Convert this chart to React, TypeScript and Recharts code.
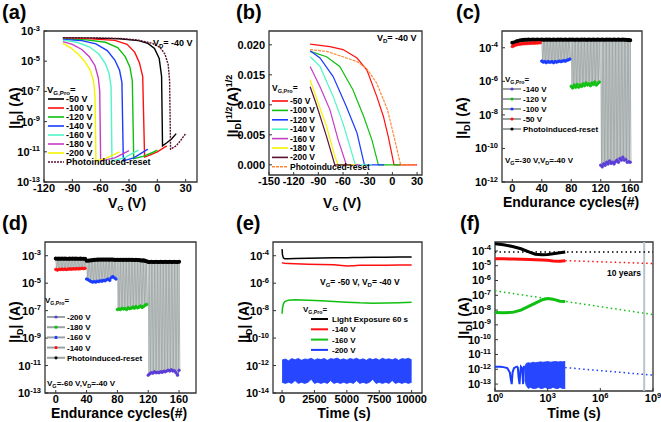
import React from 'react';
import { ComposedChart, Line, Area, XAxis, YAxis, ReferenceArea, ReferenceLine } from 'recharts';

const FONT = '"Liberation Sans", Arial, Helvetica, sans-serif';

// ---------- (a) |ID| vs VG (log) ----------
const aTicksX = [-120, -90, -60, -30, 0, 30];
const aTicksY = [1e-13, 1e-11, 1e-9, 1e-7, 1e-5, 1e-3];
const aVgM50 = [-100, -70, -40, -20, -10, -3, 2, 4.5, 5.5, 10, 15, 20];
const aIdM50 = [3.5e-4, 3.4e-4, 3.1e-4, 2.3e-4, 1.5e-4, 7e-5, 1.5e-5, 1e-6, 2.5e-11, 4e-11, 7e-11, 1.6e-10];
const aVgM100 = [-100, -70, -45, -32, -24, -19, -15.5, -13.5, -8, 0, 10];
const aIdM100 = [3.3e-4, 3e-4, 2.4e-4, 1.3e-4, 4e-5, 8e-6, 1e-6, 4.5e-12, 6e-12, 1e-11, 2.5e-11];
const aVgM120 = [-100, -75, -55, -42, -34, -29, -26.5, -25, -15, -5, 0];
const aIdM120 = [3e-4, 2.6e-4, 1.8e-4, 8e-5, 2e-5, 4e-6, 5e-7, 3.5e-12, 5e-12, 9e-12, 1.3e-11];
const aVgM140 = [-100, -80, -65, -53, -45, -40, -37.5, -36, -25, -10];
const aIdM140 = [2.8e-4, 2.3e-4, 1.4e-4, 5e-5, 1.2e-5, 2.5e-6, 4e-7, 2.5e-12, 4e-12, 1.5e-11];
const aVgM160 = [-100, -85, -72, -62, -55, -51, -49, -48, -35, -20];
const aIdM160 = [2.5e-4, 1.8e-4, 9e-5, 3e-5, 7e-6, 1.5e-6, 2e-7, 2.5e-12, 4e-12, 1.3e-11];
const aVgM180 = [-100, -90, -80, -72, -66, -62.5, -61, -60, -45, -30];
const aIdM180 = [2e-4, 1.3e-4, 6e-5, 2e-5, 5e-6, 8e-7, 1e-7, 2.5e-12, 4e-12, 1.2e-11];
const aVgM200 = [-100, -92, -84, -77, -71, -67.5, -66, -65, -55, -40];
const aIdM200 = [1.5e-4, 8e-5, 3e-5, 1e-5, 2.5e-6, 5e-7, 5e-8, 2.5e-12, 3.5e-12, 1e-11];
const aVgReset = [-100, -70, -40, -20, -5, 3, 8, 11.5, 13, 14, 20, 25, 30];
const aIdReset = [3.6e-4, 3.5e-4, 3.2e-4, 2.5e-4, 1.5e-4, 8e-5, 3e-5, 6e-6, 5e-7, 1.5e-11, 2.5e-11, 6e-11, 1.6e-10];

// ---------- (b) |ID|^1/2 vs VG ----------
const bTicksX = [-150, -120, -90, -60, -30, 0, 30];
const bTicksY = [0, 0.005, 0.01, 0.015, 0.02];
const bVgM50 = [-100, -76, -60, -43, -31, -19, -11, -5, 2, 30];
const bSqM50 = [0.0201, 0.0197, 0.0192, 0.0178, 0.0158, 0.0114, 0.0081, 0.0047, 0, 0];
const bVgM100 = [-100, -80, -64, -48, -35, -25, -17, 10];
const bSqM100 = [0.0189, 0.018, 0.0164, 0.0125, 0.0081, 0.0042, 0, 0];
const bVgM120 = [-100, -88, -72, -56, -43, -34, -10];
const bSqM120 = [0.019, 0.0178, 0.0147, 0.0097, 0.0053, 0, 0];
const bVgM140 = [-100, -88, -72, -60, -45, -25];
const bSqM140 = [0.018, 0.0164, 0.0114, 0.0069, 0, 0];
const bVgM160 = [-100, -88, -76, -66, -56, -40];
const bSqM160 = [0.0164, 0.013, 0.0092, 0.0042, 0, 0];
const bVgM180 = [-100, -93, -80, -70, -66, -45];
const bSqM180 = [0.0142, 0.0114, 0.0064, 0.0014, 0, 0];
const bVgM200 = [-100, -93, -80, -70, -50];
const bSqM200 = [0.013, 0.0103, 0.0047, 0, 0];
const bVgReset = [-100, -80, -60, -43, -31, -19, -6, 2, 10, 30];
const bSqReset = [0.0192, 0.0189, 0.018, 0.0172, 0.016, 0.0136, 0.0092, 0.0047, 0, 0];

// ---------- (c) endurance, VG = -30 V ----------
const cycTicks = [0, 40, 80, 120, 160];
const cTicksY = [1e-12, 1e-10, 1e-8, 1e-6, 1e-4];
const cycles = [0, 2, 4, 6, 8, 10, 12, 14, 16, 18, 20, 22, 24, 26, 28, 30, 32, 34, 36, 38,
  40, 42, 44, 46, 48, 50, 52, 54, 56, 58, 60, 62, 64, 66, 68, 70, 72, 74, 76, 78,
  80, 82, 84, 86, 88, 90, 92, 94, 96, 98, 100, 102, 104, 106, 108, 110, 112, 114, 116, 118,
  120, 122, 124, 126, 128, 130, 132, 134, 136, 138, 140, 142, 144, 146, 148, 150, 152, 154, 156, 158, 160];
const cReset = [2.0e-4, 2.0e-4, 2.2e-4, 2.4e-4, 2.5e-4, 2.7e-4, 2.8e-4, 2.9e-4, 3.0e-4, 3.0e-4, 3.0e-4, 3.1e-4, 3.0e-4, 3.0e-4, 3.1e-4, 3.0e-4, 3.0e-4, 3.1e-4, 3.0e-4, 3.0e-4,
  3.1e-4, 3.0e-4, 3.0e-4, 3.1e-4, 3.0e-4, 3.1e-4, 3.0e-4, 3.0e-4, 3.1e-4, 3.0e-4, 3.0e-4, 3.1e-4, 3.0e-4, 3.1e-4, 3.0e-4, 3.0e-4, 3.1e-4, 3.0e-4, 3.0e-4, 3.1e-4,
  3.0e-4, 3.1e-4, 3.0e-4, 3.0e-4, 3.1e-4, 3.0e-4, 3.0e-4, 3.1e-4, 3.0e-4, 3.1e-4, 3.0e-4, 3.0e-4, 3.1e-4, 3.0e-4, 3.0e-4, 3.1e-4, 3.0e-4, 3.0e-4, 3.1e-4, 3.0e-4,
  3.0e-4, 3.1e-4, 3.0e-4, 3.0e-4, 3.1e-4, 3.0e-4, 3.1e-4, 3.0e-4, 3.0e-4, 3.1e-4, 3.0e-4, 3.0e-4, 3.1e-4, 3.0e-4, 3.0e-4, 3.1e-4, 3.0e-4, 3.0e-4, 2.9e-4, 2.9e-4, 2.8e-4];
const cM50 = [1.2e-4, 1.3e-4, 1.45e-4, 1.5e-4, 1.6e-4, 1.65e-4, 1.7e-4, 1.75e-4, 1.75e-4, 1.8e-4, 1.8e-4, 1.85e-4, 1.85e-4, 1.9e-4, 1.9e-4, 1.9e-4, 1.95e-4, 1.95e-4, 2e-4, 2e-4];
const cM100 = [1.6e-5, 1.4e-5, 1.5e-5, 1.3e-5, 1.5e-5, 1.4e-5, 1.4e-5, 1.5e-5, 1.3e-5, 1.5e-5, 1.4e-5, 1.5e-5, 1.6e-5, 1.5e-5, 1.6e-5, 1.7e-5, 1.6e-5, 1.8e-5, 1.9e-5, 2.1e-5];
const cM120 = [5e-7, 4e-7, 6e-7, 4.5e-7, 6.5e-7, 4.5e-7, 6e-7, 5e-7, 7e-7, 5.5e-7, 8e-7, 6e-7, 7e-7, 5.5e-7, 8e-7, 6.5e-7, 9e-7, 6e-7, 7.5e-7, 9e-7];
const cM140 = [1e-11, 8e-12, 1.2e-11, 1e-11, 1.5e-11, 1.2e-11, 1.8e-11, 1.3e-11, 1.5e-11, 1.2e-11, 1.6e-11, 2e-11, 1.5e-11, 2.5e-11, 2e-11, 3e-11, 2e-11, 2.2e-11, 1.5e-11, 1.6e-11, 1.5e-11];

// ---------- (d) endurance, VG = -60 V ----------
const dTicksY = [1e-13, 1e-11, 1e-9, 1e-7, 1e-5, 1e-3];
const dReset = [6.2e-4, 6.0e-4, 6.1e-4, 6.0e-4, 6.2e-4, 6.0e-4, 6.1e-4, 6.0e-4, 6.0e-4, 6.1e-4, 6.0e-4, 6.2e-4, 6.0e-4, 6.1e-4, 6.0e-4, 6.0e-4, 6.1e-4, 6.0e-4, 6.0e-4, 6.0e-4,
  4.3e-4, 4.4e-4, 4.5e-4, 4.6e-4, 4.8e-4, 5.0e-4, 5.1e-4, 5.2e-4, 5.2e-4, 5.3e-4, 5.2e-4, 5.3e-4, 5.2e-4, 5.3e-4, 5.2e-4, 5.2e-4, 5.3e-4, 5.2e-4, 5.1e-4, 5.0e-4,
  5.1e-4, 5.0e-4, 5.1e-4, 5.0e-4, 5.0e-4, 5.1e-4, 5.0e-4, 5.0e-4, 5.1e-4, 5.0e-4, 5.0e-4, 4.9e-4, 5.0e-4, 4.9e-4, 4.8e-4, 4.6e-4, 4.4e-4, 4.6e-4, 4.2e-4, 4.0e-4,
  3.5e-4, 3.5e-4, 3.6e-4, 3.5e-4, 3.5e-4, 3.6e-4, 3.5e-4, 3.5e-4, 3.6e-4, 3.5e-4, 3.5e-4, 3.6e-4, 3.5e-4, 3.5e-4, 3.6e-4, 3.5e-4, 3.5e-4, 3.6e-4, 3.5e-4, 3.5e-4, 3.6e-4];
const dM140 = [1e-4, 9e-5, 1e-4, 1e-4, 1.05e-4, 1e-4, 1.05e-4, 1e-4, 1.05e-4, 1.1e-4, 1.05e-4, 1.1e-4, 1.1e-4, 1.1e-4, 1.15e-4, 1.1e-4, 1.15e-4, 1.2e-4, 1.15e-4, 1.2e-4];
const dM160 = [2e-5, 1.8e-5, 1.5e-5, 1.3e-5, 1.2e-5, 1.3e-5, 1.2e-5, 1.4e-5, 1.3e-5, 1.5e-5, 1.4e-5, 1.6e-5, 1.5e-5, 1.8e-5, 2e-5, 1.6e-5, 2.5e-5, 3e-5, 2.5e-5, 2e-5];
const dM180 = [1.2e-7, 1.3e-7, 1.2e-7, 1.5e-7, 1.3e-7, 1.4e-7, 1.2e-7, 1.6e-7, 1.4e-7, 1.5e-7, 1.8e-7, 1.5e-7, 2e-7, 1.6e-7, 1.8e-7, 2.2e-7, 1.7e-7, 2e-7, 2.5e-7, 2.8e-7];
const dM200 = [2e-12, 2.5e-12, 3e-12, 2.8e-12, 3.5e-12, 3e-12, 3.2e-12, 3e-12, 3.5e-12, 3.2e-12, 3.8e-12, 3.5e-12, 4e-12, 4.5e-12, 4e-12, 5e-12, 4e-12, 4.2e-12, 3e-12, 2e-12, 4.5e-12];

// ---------- (e) retention, linear time ----------
const eTicksX = [0, 2500, 5000, 7500, 10000];
const eTicksY = [1e-14, 1e-12, 1e-10, 1e-8, 1e-6, 1e-4];
const eTime = [0, 30, 100, 200, 500, 1000, 2000, 3000, 4000, 5000, 5500, 6000, 7000, 8000, 9000, 10000];
const eLight = [3e-4, 1.2e-4, 7e-5, 6e-5, 6e-5, 6.2e-5, 6.5e-5, 6.8e-5, 7e-5, 7.2e-5, 7.3e-5, 7.4e-5, 7.6e-5, 7.8e-5, 8e-5, 8e-5];
const eM140 = [3.2e-5, 3e-5, 2.9e-5, 2.8e-5, 2.7e-5, 2.6e-5, 2.4e-5, 2.3e-5, 2.2e-5, 1.8e-5, 1.9e-5, 2e-5, 2e-5, 2e-5, 2.1e-5, 2.1e-5];
const eM160 = [6e-9, 1.5e-8, 3e-8, 4.5e-8, 5.8e-8, 6.2e-8, 5.8e-8, 5.2e-8, 4.6e-8, 4.1e-8, 3.9e-8, 3.7e-8, 3.5e-8, 3.6e-8, 3.8e-8, 4.1e-8];
const eNoiseT = [0, 250, 500, 750, 1000, 1250, 1500, 1750, 2000, 2250, 2500, 2750, 3000, 3250, 3500, 3750, 4000, 4250, 4500, 4750, 5000,
  5250, 5500, 5750, 6000, 6250, 6500, 6750, 7000, 7250, 7500, 7750, 8000, 8250, 8500, 8750, 9000, 9250, 9500, 9750, 10000];
const eNoiseHi = [2.5e-12, 3e-12, 2.2e-12, 3.2e-12, 2.6e-12, 3.3e-12, 2.4e-12, 3e-12, 2.8e-12, 3.4e-12, 2.5e-12, 3.1e-12, 2.7e-12, 3.3e-12, 2.4e-12, 3.2e-12, 2.9e-12, 3.5e-12, 2.6e-12, 3.1e-12, 2.5e-12,
  3.3e-12, 2.8e-12, 3.4e-12, 2.6e-12, 3.1e-12, 2.4e-12, 3.3e-12, 2.7e-12, 3.2e-12, 2.5e-12, 3.4e-12, 2.8e-12, 3.1e-12, 2.6e-12, 3.3e-12, 2.4e-12, 3.2e-12, 2.9e-12, 3.4e-12, 2.6e-12];
const eNoiseLo = [6e-14, 5e-14, 6e-14, 5e-14, 8e-14, 5e-14, 6e-14, 5e-14, 6e-14, 1e-13, 5e-14, 6e-14, 5e-14, 6e-14, 5e-14, 8e-14, 5e-14, 6e-14, 5e-14, 6e-14, 5e-14,
  6e-14, 5e-14, 8e-14, 5e-14, 6e-14, 5e-14, 6e-14, 1e-13, 5e-14, 6e-14, 5e-14, 6e-14, 5e-14, 8e-14, 5e-14, 6e-14, 5e-14, 6e-14, 5e-14, 6e-14];

// ---------- (f) retention, log time with extrapolation ----------
const fTicksX = [1, 1e3, 1e6, 1e9];
const fTicksY = [1e-13, 1e-12, 1e-11, 1e-10, 1e-9, 1e-8, 1e-7, 1e-6, 1e-5, 1e-4];
const fTime = [1, 3, 10, 30, 100, 200, 500, 1000, 2000, 5000, 10000];
const fLight = [3e-4, 2.6e-4, 2e-4, 1.4e-4, 8e-5, 6e-5, 5.5e-5, 5.8e-5, 6.5e-5, 7.5e-5, 8.5e-5];
const fM140 = [3e-5, 2.9e-5, 2.8e-5, 2.7e-5, 2.6e-5, 2.5e-5, 2.4e-5, 2.3e-5, 2.1e-5, 2e-5, 2.2e-5];
const fM160 = [7e-9, 6.5e-9, 7e-9, 1e-8, 2e-8, 3e-8, 5e-8, 6e-8, 5.5e-8, 4e-8, 3.8e-8];
const fM200T = [1, 2, 3, 5, 7, 8, 9, 10, 12, 15, 18, 20, 22, 25, 28, 30, 35, 40, 45, 50];
const fM200 = [1.5e-12, 1.5e-12, 1.4e-12, 1.2e-12, 6e-13, 2e-13, 1e-13, 6e-13, 1.2e-12, 1.4e-12, 1.5e-12, 1.3e-12, 3e-13, 1e-13, 8e-13, 1.5e-12, 1.2e-12, 1e-13, 1.5e-12, 1.5e-12];
const fNoiseT = [50, 60, 80, 100, 150, 200, 300, 400, 500, 700, 1000, 1500, 2000, 3000, 4000, 5000, 7000, 10000];
const fNoiseHi = [1.5e-12, 2.5e-12, 2.8e-12, 2.6e-12, 3e-12, 2.8e-12, 3e-12, 3.2e-12, 3e-12, 3.1e-12, 3.3e-12, 3e-12, 3.2e-12, 3.3e-12, 3.1e-12, 3.3e-12, 3.2e-12, 3.4e-12];
const fNoiseLo = [2e-13, 8e-14, 5e-14, 6e-14, 5e-14, 5e-14, 6e-14, 5e-14, 5e-14, 6e-14, 5e-14, 5e-14, 6e-14, 5e-14, 5e-14, 6e-14, 5e-14, 5e-14];
const fFitT = [1, 1e9];
const fFitLight = [8.5e-5, 8.5e-5];
const fFitM160 = [2e-7, 5e-9];
const fExtT = [1e4, 1e9];
const fExtM140 = [2.2e-5, 1.4e-5];
const fExtM200 = [1.3e-12, 4e-13];
const tenYears = 3.15e8;

const pts = (xs: number[], ys: number[]) => xs.map((x, i) => ({ x, y: ys[i] }));
const zig = (xs: number[], top: number[], low: number[]) =>
  low.flatMap((v, i) => [{ x: xs[i], y: top[i] }, { x: xs[i] + 1, y: v }]);

const box = (L: number, R: number, T: number, B: number) => ({
  style: { position: 'absolute' as const, left: L - 44, top: T - 8 },
  width: R - L + 52,
  height: B - T + 32,
  margin: { top: 8, right: 8, left: 0, bottom: 0 },
});

const tickFont = { fontSize: 11, fontWeight: 'bold' as const, fill: '#000', fontFamily: FONT };

function YPow(props: any) {
  const { x, y, payload } = props;
  const e = Math.round(Math.log10(payload.value));
  return (
    <text x={x} y={y} dy={4} textAnchor="end" fontSize={11} fontWeight="bold" fontFamily={FONT} fill="#000">
      10<tspan dy={-4.5} fontSize={7.5}>{e}</tspan>
    </text>
  );
}
function XPow(props: any) {
  const { x, y, payload } = props;
  const e = Math.round(Math.log10(payload.value));
  return (
    <text x={x} y={y} dy={9} textAnchor="middle" fontSize={11} fontWeight="bold" fontFamily={FONT} fill="#000">
      10<tspan dy={-4.5} fontSize={7.5}>{e}</tspan>
    </text>
  );
}

const axisX = (domain: number[], ticks: number[], extra: any = {}) => (
  <XAxis type="number" dataKey="x" domain={domain} ticks={ticks} interval={0} allowDataOverflow axisLine={false}
    tickSize={-3} tickMargin={5} height={24} tick={tickFont} stroke="#333" {...extra} />
);
const axisYLog = (domain: number[], ticks: number[]) => (
  <YAxis type="number" scale="log" domain={domain} ticks={ticks} interval={0} allowDataOverflow axisLine={false}
    tickSize={-3} tickMargin={7} width={44} tick={(p: any) => <YPow {...p} />} stroke="#333" />
);
const frame = (x1: number, x2: number, y1: number, y2: number) => (
  <ReferenceArea x1={x1} x2={x2} y1={y1} y2={y2} fill="none" stroke="#333" strokeWidth={1.3} ifOverflow="visible" />
);
const curve = (key: string, data: any[], color: string, width = 1.3, dash?: string) => (
  <Line key={key} data={data} dataKey="y" type="linear" stroke={color} strokeWidth={width}
    strokeDasharray={dash} dot={false} isAnimationActive={false} />
);
const dotted = (key: string, data: any[], color: string, width = 1.3) => (
  <Line key={key} data={data} dataKey="y" type="linear" stroke={color} strokeWidth={width}
    dot={{ r: 1.3, fill: color, stroke: color }} isAnimationActive={false} />
);

const C = {
  black: '#000000', red: '#ff1010', green: '#10c010', blue: '#1a3cff', cyan: '#50f5c8',
  magenta: '#c63cc6', yellow: '#f4f400', maroon: '#5a1232', orange: '#ff8a3a', purple: '#5a3cd8', gray: '#9aa2a2',
};

const aCurves = [
  { n: '-50 V', xs: aVgM50, ys: aIdM50, c: C.black },
  { n: '-100 V', xs: aVgM100, ys: aIdM100, c: C.red },
  { n: '-120 V', xs: aVgM120, ys: aIdM120, c: C.green },
  { n: '-140 V', xs: aVgM140, ys: aIdM140, c: C.blue },
  { n: '-160 V', xs: aVgM160, ys: aIdM160, c: C.cyan },
  { n: '-180 V', xs: aVgM180, ys: aIdM180, c: C.magenta },
  { n: '-200 V', xs: aVgM200, ys: aIdM200, c: C.yellow },
  { n: 'Photoinduced-reset', xs: aVgReset, ys: aIdReset, c: C.maroon, d: '2 1' },
];
const bCurves = [
  { n: '-50 V', xs: bVgM50, ys: bSqM50, c: C.red },
  { n: '-100 V', xs: bVgM100, ys: bSqM100, c: C.green },
  { n: '-120 V', xs: bVgM120, ys: bSqM120, c: C.blue },
  { n: '-140 V', xs: bVgM140, ys: bSqM140, c: C.cyan },
  { n: '-160 V', xs: bVgM160, ys: bSqM160, c: C.magenta },
  { n: '-180 V', xs: bVgM180, ys: bSqM180, c: C.yellow },
  { n: '-200 V', xs: bVgM200, ys: bSqM200, c: C.maroon },
  { n: 'Photoinduced-reset', xs: bVgReset, ys: bSqReset, c: C.orange, d: '3 1' },
];

function Endurance({ L, R, T, B, dom, yDom, yTicks, reset, segs }: any) {
  const b = box(L, R, T, B);
  return (
    <ComposedChart {...b}>
      {axisX(dom, cycTicks)}
      {axisYLog(yDom, yTicks)}
      {segs.map((s: any) => curve('g' + s.k, zig(cycles.slice(s.k * 20), reset.slice(s.k * 20), s.v), C.gray, 0.8))}
      {dotted('reset', pts(cycles, reset), C.black, 1.5)}
      {segs.map((s: any) => dotted('p' + s.k, pts(cycles.slice(s.k * 20), s.v), s.c, 0.8))}
      {frame(dom[0], dom[1], yDom[0], yDom[1])}
    </ComposedChart>
  );
}

function T({ x, y, s = 9, a = 'start', children }: any) {
  return (
    <text x={x} y={y} fontSize={s} fontWeight="bold" fontFamily={FONT} textAnchor={a} fill="#000">{children}</text>
  );
}
function YTitle({ x, y, half }: any) {
  return (
    <text transform={`translate(${x},${y}) rotate(-90)`} fontSize={14} fontWeight="bold" fontFamily={FONT} textAnchor="middle" fill="#000">
      |I<tspan dy={3} fontSize={9}>D</tspan><tspan dy={-3}>|</tspan>
      {half ? <tspan dy={-6} fontSize={9}>1/2</tspan> : null}
      <tspan dy={half ? 6 : 0}>{half ? '(A)' : ' (A)'}</tspan>
      {half ? <tspan dy={-6} fontSize={9}>1/2</tspan> : null}
    </text>
  );
}
function VG({ x, y }: any) {
  return (
    <text x={x} y={y} fontSize={14} fontWeight="bold" fontFamily={FONT} textAnchor="middle" fill="#000">
      V<tspan dy={3} fontSize={8}>G</tspan><tspan dy={-3}> (V)</tspan>
    </text>
  );
}
function Pro({ x, y, s }: any) {
  return (
    <T x={x} y={y} s={s}>V<tspan dy={2} fontSize={s * 0.65}>G,Pro</tspan><tspan dy={-2}>=</tspan></T>
  );
}

export default function App() {
  const A = box(44, 197, 31, 182);
  const Bb = box(269, 422, 31, 175);
  const E = box(273, 422, 242, 393);
  const F = box(495, 653, 242, 391);
  const eBand = eNoiseT.map((x, i) => ({ x, band: [eNoiseLo[i], eNoiseHi[i]] }));
  const fBand = fNoiseT.map((x, i) => ({ x, band: [fNoiseLo[i], fNoiseHi[i]] }));

  return (
    <div style={{ position: 'absolute', left: 0, top: 0, width: 661, height: 422, background: '#fff', overflow: 'hidden' }}>
      {/* (a) */}
      <ComposedChart {...A}>
        {axisX([-120, 42], aTicksX)}
        {axisYLog([1e-13, 1e-3], aTicksY)}
        {aCurves.map((s) => curve('a' + s.n, pts(s.xs, s.ys), s.c, 1.4, (s as any).d))}
        {frame(-120, 42, 1e-13, 1e-3)}
      </ComposedChart>

      {/* (b) */}
      <ComposedChart {...Bb}>
        {axisX([-150, 36], bTicksX)}
        <YAxis type="number" domain={[-0.0017, 0.0223]} ticks={bTicksY} interval={0} allowDataOverflow axisLine={false}
          tickSize={-3} tickMargin={7} width={44} tick={tickFont} stroke="#333" tickFormatter={(v: number) => v.toFixed(3)} />
        {bCurves.map((s) => curve('b' + s.n, pts(s.xs, s.ys), s.c, 1.2, (s as any).d))}
        {frame(-150, 36, -0.0017, 0.0223)}
      </ComposedChart>

      {/* (c) */}
      <Endurance L={502} R={642} T={31} B={182} dom={[-14, 176]} yDom={[1e-12, 1e-3]} yTicks={cTicksY} reset={cReset}
        segs={[{ k: 0, v: cM50, c: C.red }, { k: 1, v: cM100, c: C.blue }, { k: 2, v: cM120, c: C.green }, { k: 3, v: cM140, c: C.purple }]} />

      {/* (d) */}
      <Endurance L={45} R={196} T={242} B={393} dom={[-14, 182]} yDom={[1e-13, 1e-2]} yTicks={dTicksY} reset={dReset}
        segs={[{ k: 0, v: dM140, c: C.red }, { k: 1, v: dM160, c: C.blue }, { k: 2, v: dM180, c: C.green }, { k: 3, v: dM200, c: C.purple }]} />

      {/* (e) */}
      <ComposedChart {...E} data={eBand}>
        {axisX([-700, 10800], eTicksX)}
        {axisYLog([1e-14, 1e-3], eTicksY)}
        <Area dataKey="band" type="linear" stroke={C.blue} strokeWidth={0.8} fill={C.blue} fillOpacity={0.95} isAnimationActive={false} />
        {curve('eL', pts(eTime, eLight), C.black, 1.5)}
        {curve('e140', pts(eTime, eM140), C.red, 1.5)}
        {curve('e160', pts(eTime, eM160), C.green, 1.5)}
        {frame(-700, 10800, 1e-14, 1e-3)}
      </ComposedChart>

      {/* (f) */}
      <ComposedChart {...F} data={fBand}>
        {axisX([1, 1e9], fTicksX, { scale: 'log', tick: (p: any) => <XPow {...p} /> })}
        {axisYLog([3.4e-14, 4e-4], fTicksY)}
        <ReferenceLine x={tenYears} stroke="#b8c4cc" strokeWidth={2} />
        {curve('fLf', pts(fFitT, fFitLight), C.black, 1.5, '1.5 3')}
        {curve('f140x', pts(fExtT, fExtM140), C.red, 1.5, '1.5 3')}
        {curve('f160f', pts(fFitT, fFitM160), C.green, 1.5, '1.5 3')}
        {curve('f200x', pts(fExtT, fExtM200), C.blue, 1.5, '1.5 3')}
        <Area dataKey="band" type="linear" stroke={C.blue} strokeWidth={0.8} fill={C.blue} fillOpacity={0.95} isAnimationActive={false} />
        {curve('f200', pts(fM200T, fM200), C.blue, 2)}
        {curve('fL', pts(fTime, fLight), C.black, 3)}
        {curve('f140', pts(fTime, fM140), C.red, 3)}
        {curve('f160', pts(fTime, fM160), C.green, 3)}
        {frame(1, 1e9, 3.4e-14, 4e-4)}
      </ComposedChart>

      {/* text overlay */}
      <svg width={661} height={422} style={{ position: 'absolute', left: 0, top: 0, pointerEvents: 'none' }}>
        <T x={2} y={19} s={20}>(a)</T>
        <T x={236} y={19} s={20}>(b)</T>
        <T x={456} y={19} s={20}>(c)</T>
        <T x={2} y={230} s={20}>(d)</T>
        <T x={236} y={230} s={20}>(e)</T>
        <T x={460} y={230} s={20}>(f)</T>

        <YTitle x={20} y={108} />
        <VG x={127} y={208} />
        <YTitle x={238} y={106} half />
        <VG x={342} y={208} />
        <YTitle x={467} y={118} />
        <T x={571} y={207} s={14} a="middle">Endurance cycles(#)</T>
        <YTitle x={20} y={322} />
        <T x={119} y={418} s={14} a="middle">Endurance cycles(#)</T>
        <YTitle x={249} y={322} />
        <T x={344} y={418} s={14} a="middle">Time (s)</T>
        <YTitle x={469} y={318} />
        <T x={574} y={418} s={14} a="middle">Time (s)</T>

        {/* (a) legend */}
        <T x={153} y={46} s={9}>V<tspan dy={2} fontSize={6}>D</tspan><tspan dy={-2}>= -40 V</tspan></T>
        <Pro x={47} y={93} s={9.5} />
        {aCurves.map((s, i) => (
          <g key={'la' + i}>
            <line x1={48} x2={64} y1={99 + 9 * i} y2={99 + 9 * i} stroke={s.c} strokeWidth={1.6} strokeDasharray={(s as any).d} />
            <T x={66} y={102 + 9 * i} s={9}>{s.n}</T>
          </g>
        ))}

        {/* (b) legend */}
        <T x={377} y={41} s={9}>V<tspan dy={2} fontSize={6}>D</tspan><tspan dy={-2}>= -40 V</tspan></T>
        <Pro x={272} y={91} s={8.5} />
        {bCurves.map((s, i) => (
          <g key={'lb' + i}>
            <line x1={272} x2={288} y1={101 + 9.4 * i} y2={101 + 9.4 * i} stroke={s.c} strokeWidth={1.6} strokeDasharray={(s as any).d} />
            <T x={290} y={104 + 9.4 * i} s={8.5}>{s.n}</T>
          </g>
        ))}

        {/* (c) legend */}
        <Pro x={505} y={82} s={8} />
        {[['-140 V', C.purple], ['-120 V', C.green], ['-100 V', C.blue], ['-50 V', C.red], ['Photoinduced-reset', C.black]].map((r, i) => (
          <g key={'lc' + i}>
            <line x1={503} x2={521} y1={89 + 10 * i} y2={89 + 10 * i} stroke={C.gray} strokeWidth={2} />
            <circle cx={512} cy={89 + 10 * i} r={1.6} fill={r[1]} />
            <T x={523} y={92 + 10 * i} s={8}>{r[0]}</T>
          </g>
        ))}
        <T x={505} y={163} s={8}>V<tspan dy={2} fontSize={5.5}>G</tspan><tspan dy={-2}>=-30 V,V</tspan><tspan dy={2} fontSize={5.5}>D</tspan><tspan dy={-2}>=-40 V</tspan></T>

        {/* (d) legend */}
        <Pro x={45} y={303} s={8} />
        {[['-200 V', C.purple], ['-180 V', C.green], ['-160 V', C.blue], ['-140 V', C.red], ['Photoinduced-reset', C.black]].map((r, i) => (
          <g key={'ld' + i}>
            <line x1={47} x2={65} y1={317 + 10.2 * i} y2={317 + 10.2 * i} stroke={C.gray} strokeWidth={2} />
            <circle cx={56} cy={317 + 10.2 * i} r={1.6} fill={r[1]} />
            <T x={67} y={320 + 10.2 * i} s={8}>{r[0]}</T>
          </g>
        ))}
        <T x={47} y={386} s={8}>V<tspan dy={2} fontSize={5.5}>G</tspan><tspan dy={-2}>=-60 V,V</tspan><tspan dy={2} fontSize={5.5}>D</tspan><tspan dy={-2}>=-40 V</tspan></T>

        {/* (e) legend */}
        <T x={320} y={285} s={8.5}>V<tspan dy={2} fontSize={6}>G</tspan><tspan dy={-2}>= -50 V, V</tspan><tspan dy={2} fontSize={6}>D</tspan><tspan dy={-2}>= -40 V</tspan></T>
        <Pro x={303} y={312} s={8} />
        {[['Light Exposure 60 s', C.black], ['-140 V', C.red], ['-160 V', C.green], ['-200 V', C.blue]].map((r, i) => (
          <g key={'le' + i}>
            <line x1={311} x2={328} y1={319 + 10.3 * i} y2={319 + 10.3 * i} stroke={r[1]} strokeWidth={2} />
            <T x={332} y={322 + 10.3 * i} s={8}>{r[0]}</T>
          </g>
        ))}

        {/* (f) note */}
        <T x={607} y={276} s={8.5}>10 years</T>
      </svg>
    </div>
  );
}
